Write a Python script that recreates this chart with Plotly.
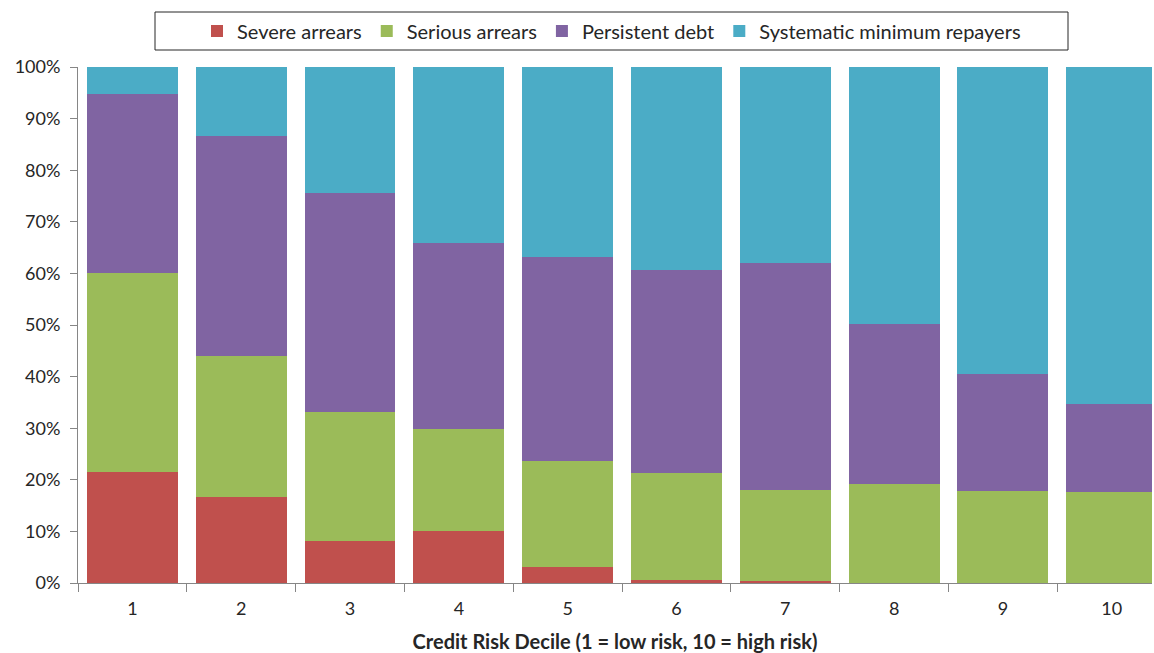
import plotly.graph_objects as go

deciles = ["1", "2", "3", "4", "5", "6", "7", "8", "9", "10"]

# Share of accounts in each segment per decile (%), stacked bottom to top
severe = [21.5, 16.7, 8.1, 10.1, 3.1, 0.6, 0.4, 0.0, 0.0, 0.0]
serious = [38.5, 27.3, 25.0, 19.7, 20.5, 20.7, 17.6, 19.2, 17.8, 17.6]
persistent = [34.8, 42.6, 42.5, 36.1, 39.6, 39.4, 44.0, 31.0, 22.7, 17.1]
systematic = [5.2, 13.4, 24.4, 34.1, 36.8, 39.3, 38.0, 49.8, 59.5, 65.3]

series = [
    ("Severe arrears", severe, "#C0504D"),
    ("Serious arrears", serious, "#9BBB59"),
    ("Persistent debt", persistent, "#8064A2"),
    ("Systematic minimum repayers", systematic, "#4BACC6"),
]

font_family = "Lato, 'Open Sans', sans-serif"
W, H = 1154, 653
axis_grey = "#868686"

fig = go.Figure()
for name, vals, color in series:
    fig.add_trace(go.Bar(
        x=deciles,
        y=[v / 100 for v in vals],
        name=name,
        marker=dict(color=color, line=dict(width=0)),
    ))

# Legend frame
box_x0, box_x1, box_y0, box_y1 = 155, 1068, 12, 50
fig.add_shape(
    type="rect", xref="paper", yref="paper",
    x0=(box_x0 - 78) / (W - 80), x1=(box_x1 - 78) / (W - 80),
    y0=1 + (67 - box_y1) / (583 - 67), y1=1 + (67 - box_y0) / (583 - 67),
    line=dict(color="#262626", width=1), fillcolor="rgba(0,0,0,0)",
    layer="above",
)

fig.update_layout(
    barmode="stack",
    bargap=0.165,
    width=W,
    height=H,
    margin=dict(l=78, r=2, t=67, b=70),
    paper_bgcolor="white",
    plot_bgcolor="white",
    font=dict(family=font_family, size=18, color="#262626"),
    legend=dict(
        orientation="h",
        x=((box_x0 + box_x1) / 2 - 78) / (W - 80),
        xanchor="center",
        y=1 + (67 - 31) / (583 - 67),
        yanchor="middle",
        borderwidth=0,
        bgcolor="rgba(0,0,0,0)",
        font=dict(size=20, color="#262626"),
        traceorder="normal",
        itemwidth=30,
    ),
    xaxis=dict(
        type="category",
        range=[-0.5, 9.37],
        tickson="boundaries",
        ticks="outside",
        ticklen=8,
        tickcolor=axis_grey,
        showline=True,
        linecolor=axis_grey,
        linewidth=1,
        showgrid=False,
        tickfont=dict(size=18),
        ticklabelstandoff=9,
        title=dict(
            text="<b>Credit Risk Decile (1 = low risk, 10 = high risk)</b>",
            font=dict(size=20),
            standoff=17,
        ),
    ),
    yaxis=dict(
        range=[0, 1],
        dtick=0.1,
        tickformat=".0%",
        ticks="outside",
        ticklen=7,
        tickcolor=axis_grey,
        showline=True,
        linecolor=axis_grey,
        linewidth=1,
        showgrid=False,
        zeroline=False,
        tickfont=dict(size=18),
        ticklabelstandoff=6,
    ),
)

fig.write_html("out.html")
